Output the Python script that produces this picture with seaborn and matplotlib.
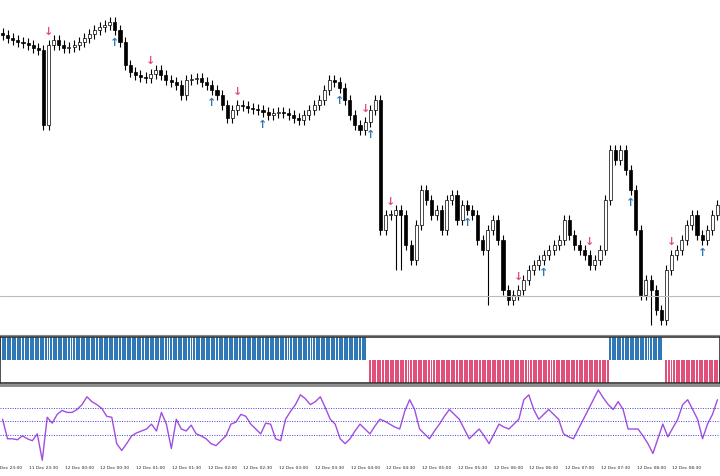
import matplotlib
matplotlib.use("Agg")
import matplotlib.pyplot as plt
import seaborn as sns
import numpy as np
import pandas as pd

sns.set_style("white")
plt.rcParams['font.family'] = ['DejaVu Sans']

closes = [305,302,300,298,297,295,292,290,215,295,300,295,292,293,295,298,302,306,310,313,315,318,310,298,275,268,265,263,262,266,
          270,265,260,258,255,245,260,261,262,258,255,250,245,235,222,230,235,234,232,231,230,228,225,227,228,227,225,222,220,225,
          230,235,240,250,260,258,252,240,225,215,210,218,230,240,110,125,125,130,125,95,80,115,150,140,125,130,110,140,145,120,
          135,130,125,100,90,110,120,100,50,40,45,50,60,70,75,80,85,90,95,100,120,105,95,90,85,75,80,90,140,190,
          180,190,170,150,110,45,60,50,30,20,70,85,90,100,115,125,105,100,110,125,135]
wick_overrides_low = {77: 70, 78: 70, 95: 35, 127: 15}
down_arrows = [9, 29, 46, 71, 76, 101, 115, 131]
up_arrows = [22, 41, 51, 66, 72, 91, 106, 123, 137]
osc = [42,22,22,21,25,22,20,27,0,44,38,47,51,49,49,52,57,65,60,57,53,45,44,17,10,17,25,28,30,32,37,30,49,37,12,42,32,30,36,27,
       25,22,17,15,20,25,37,39,47,45,37,32,27,38,37,22,20,42,50,57,67,63,57,60,65,54,42,37,22,17,22,30,37,32,27,35,42,40,37,34,
       32,50,62,52,32,27,22,30,37,45,52,47,42,32,22,27,32,25,17,27,37,34,32,37,42,62,67,52,42,47,52,47,42,27,24,22,32,42,52,62,
       72,64,57,52,60,52,32,32,32,25,17,7,22,37,24,33,42,57,62,52,42,22,37,47,62]
osc_levels = [54, 40, 26]
regime_start = [-0.5, 71.6, 118.8, 129.6]
regime_end = [71.4, 118.6, 129.2, 140.6]
regime_sign = [1, -1, 1, -1]
tick_labels = ["11 Dec 23:00","11 Dec 23:30","12 Dec 00:00","12 Dec 00:30","12 Dec 01:00","12 Dec 01:30","12 Dec 02:00",
               "12 Dec 02:30","12 Dec 03:00","12 Dec 03:30","12 Dec 04:00","12 Dec 04:30","12 Dec 05:00","12 Dec 05:30",
               "12 Dec 06:00","12 Dec 06:30","12 Dec 07:00","12 Dec 07:30","12 Dec 08:00","12 Dec 08:30"]
ref_level = 44

n = len(closes)
opens = [closes[0] + 2] + closes[:-1]
df = pd.DataFrame({"i": np.arange(n), "open": opens, "close": closes})
df["top"] = df[["open", "close"]].max(axis=1)
df["bot"] = df[["open", "close"]].min(axis=1)
df["high"] = df["top"] + 5
df["low"] = df["bot"] - 5
for k, v in wick_overrides_low.items():
    df.loc[k, "low"] = v

fig = plt.figure(figsize=(7.2, 4.76), dpi=100)
ax = fig.add_axes([0, 0.296, 1, 0.704])
axh = fig.add_axes([0, 0.195, 1, 0.097])
axo = fig.add_axes([0, 0.029, 1, 0.162])
xl = (-0.5, n - 0.5)

ax.vlines(df["i"], df["low"], df["high"], color="black", lw=0.8, zorder=1)
up = df["close"] >= df["open"]
h = (df["top"] - df["bot"]).clip(lower=0.8)
ax.bar(df["i"][up], h[up], bottom=df["bot"][up], width=0.6, color="white", edgecolor="black", lw=0.5, zorder=2)
ax.bar(df["i"][~up], h[~up], bottom=df["bot"][~up], width=0.6, color="black", edgecolor="black", lw=0.5, zorder=2)
ax.axhline(ref_level, color="#bbbbbb", lw=0.8)
for i in down_arrows:
    ax.text(i, df.loc[i, "high"] + 3, "↓", color="#e0507a", ha="center", va="bottom", fontsize=8, fontweight="bold")
for i in up_arrows:
    ax.text(i, df.loc[i, "low"] - 3, "↑", color="#2f78b8", ha="center", va="top", fontsize=8, fontweight="bold")
ax.set_xlim(xl); ax.set_ylim(5, 340)
ax.set_xticks([]); ax.set_yticks([])
for s in ax.spines.values():
    s.set_visible(False)
ax.spines["bottom"].set_visible(True); ax.spines["bottom"].set_color("#888888")

for s0, s1, sg in zip(regime_start, regime_end, regime_sign):
    xs = np.arange(np.ceil(s0 * 2) / 2, s1, 0.5)
    if sg > 0:
        axh.bar(xs, 1, bottom=0, width=0.38, color="#2f78b8", lw=0)
    else:
        axh.bar(xs, 1, bottom=-1, width=0.38, color="#e0507a", lw=0)
axh.set_xlim(xl); axh.set_ylim(-1, 1)
axh.set_xticks([]); axh.set_yticks([])
for s in axh.spines.values():
    s.set_color("#333333"); s.set_linewidth(1.2)

sns.lineplot(x=np.arange(len(osc)) * (n - 1) / (len(osc) - 1), y=osc, ax=axo, color="#a04de0", lw=1.0)
for lv in osc_levels:
    axo.axhline(lv, color="#4040e0", lw=0.7, ls=(0, (1, 1.5)))
axo.set_xlim(xl); axo.set_ylim(-2, 77)
axo.set_yticks([])
pos = [1 + 7 * k for k in range(len(tick_labels))]
axo.set_xticks(pos)
axo.set_xticklabels(tick_labels, fontsize=3.2)
axo.tick_params(axis="x", length=2, pad=1)
for s in axo.spines.values():
    s.set_visible(False)
axo.spines["top"].set_visible(True); axo.spines["top"].set_color("#888888"); axo.spines["top"].set_linewidth(2)

fig.savefig("out.png", dpi=100)
